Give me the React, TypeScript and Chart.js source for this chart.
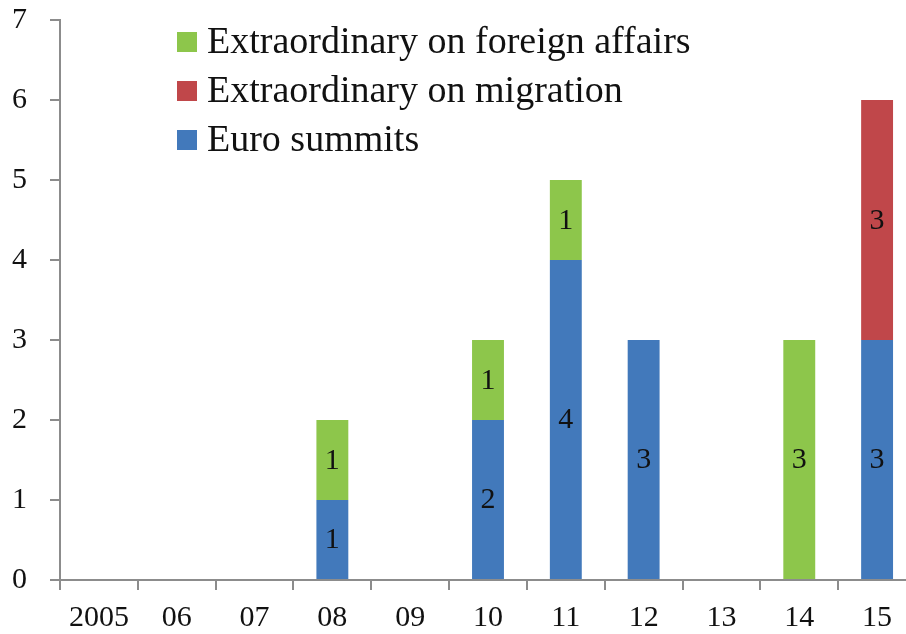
import React, { useEffect, useRef } from "react";
import { Chart, registerables } from "chart.js";

Chart.register(...registerables);

const years = ["2005", "06", "07", "08", "09", "10", "11", "12", "13", "14", "15"];
const euroSummits = [0, 0, 0, 1, 0, 2, 4, 3, 0, 0, 3];
const migration = [0, 0, 0, 0, 0, 0, 0, 0, 0, 0, 3];
const foreignAffairs = [0, 0, 0, 1, 0, 1, 1, 0, 0, 3, 0];
const seriesNames = ["Euro summits", "Extraordinary on migration", "Extraordinary on foreign affairs"];
const seriesColors = ["#4279BB", "#C0474A", "#8DC64B"];
const yMin = 0;
const yMax = 7;

const FONT = "'Liberation Serif', 'Times New Roman', serif";
const AXIS = "#8c8c8c";

const valueLabels = {
  id: "valueLabels",
  afterDatasetsDraw(chart: any) {
    const ctx = chart.ctx;
    ctx.save();
    ctx.font = `30px ${FONT}`;
    ctx.fillStyle = "#111";
    ctx.textAlign = "center";
    ctx.textBaseline = "middle";
    chart.data.datasets.forEach((ds: any, i: number) => {
      const meta = chart.getDatasetMeta(i);
      meta.data.forEach((el: any, j: number) => {
        const v = ds.data[j];
        if (!v) return;
        const y = (el.y + el.base) / 2;
        ctx.fillText(String(v), el.x, y + 1);
      });
    });
    ctx.restore();
  },
};

const insideLegend = {
  id: "insideLegend",
  afterDraw(chart: any) {
    const ctx = chart.ctx;
    ctx.save();
    ctx.font = `38px ${FONT}`;
    ctx.textBaseline = "middle";
    ctx.textAlign = "left";
    const ds = chart.data.datasets.slice().reverse();
    const x0 = 177;
    const y0 = 42;
    const step = 49;
    ds.forEach((d: any, i: number) => {
      const cy = y0 + i * step;
      ctx.fillStyle = d.backgroundColor;
      ctx.fillRect(x0, cy - 10, 20, 20);
      ctx.fillStyle = "#111";
      ctx.fillText(d.label, x0 + 30, cy + 1);
    });
    ctx.restore();
  },
};

export default function App() {
  const ref = useRef<HTMLCanvasElement | null>(null);
  useEffect(() => {
    if (!ref.current) return;
    const seriesData = [euroSummits, migration, foreignAffairs];
    const chart = new Chart(ref.current, {
      type: "bar",
      data: {
        labels: years,
        datasets: seriesData.map((d, i) => ({
          label: seriesNames[i],
          data: d,
          backgroundColor: seriesColors[i],
          borderWidth: 0,
          barPercentage: 0.41,
          categoryPercentage: 1,
        })),
      },
      options: {
        responsive: false,
        animation: false,
        layout: { padding: { top: 20, left: 0, right: 0, bottom: 0 } },
        plugins: {
          legend: { display: false },
          tooltip: { enabled: false },
          title: { display: false },
        },
        scales: {
          x: {
            stacked: true,
            grid: {
              display: true,
              drawOnChartArea: false,
              drawTicks: true,
              tickLength: 10,
              color: AXIS,
              lineWidth: 2,
              offset: true,
            },
            border: { display: true, color: AXIS, width: 2 },
            ticks: { font: { family: FONT, size: 30 }, color: "#111", padding: 10, maxRotation: 0, autoSkip: false },
            afterFit: (s: any) => {
              s.height = 54;
              s.paddingLeft = 0;
              s.paddingRight = 0;
            },
          },
          y: {
            stacked: true,
            min: yMin,
            max: yMax,
            ticks: { stepSize: 1, font: { family: FONT, size: 30 }, color: "#111", padding: 23 },
            grid: {
              display: true,
              drawOnChartArea: false,
              drawTicks: true,
              tickLength: 10,
              color: AXIS,
              lineWidth: 2,
            },
            border: { display: true, color: AXIS, width: 2 },
            afterFit: (s: any) => {
              s.width = 60;
              s.paddingTop = 0;
              s.paddingBottom = 0;
            },
          },
        },
      },
      plugins: [valueLabels, insideLegend],
    });
    return () => chart.destroy();
  }, []);
  return (
    <div style={{ position: "fixed", left: 0, top: 0, width: 916, height: 634, overflow: "hidden" }}>
      <canvas ref={ref} width={916} height={634} style={{ width: 916, height: 634 }} />
    </div>
  );
}
